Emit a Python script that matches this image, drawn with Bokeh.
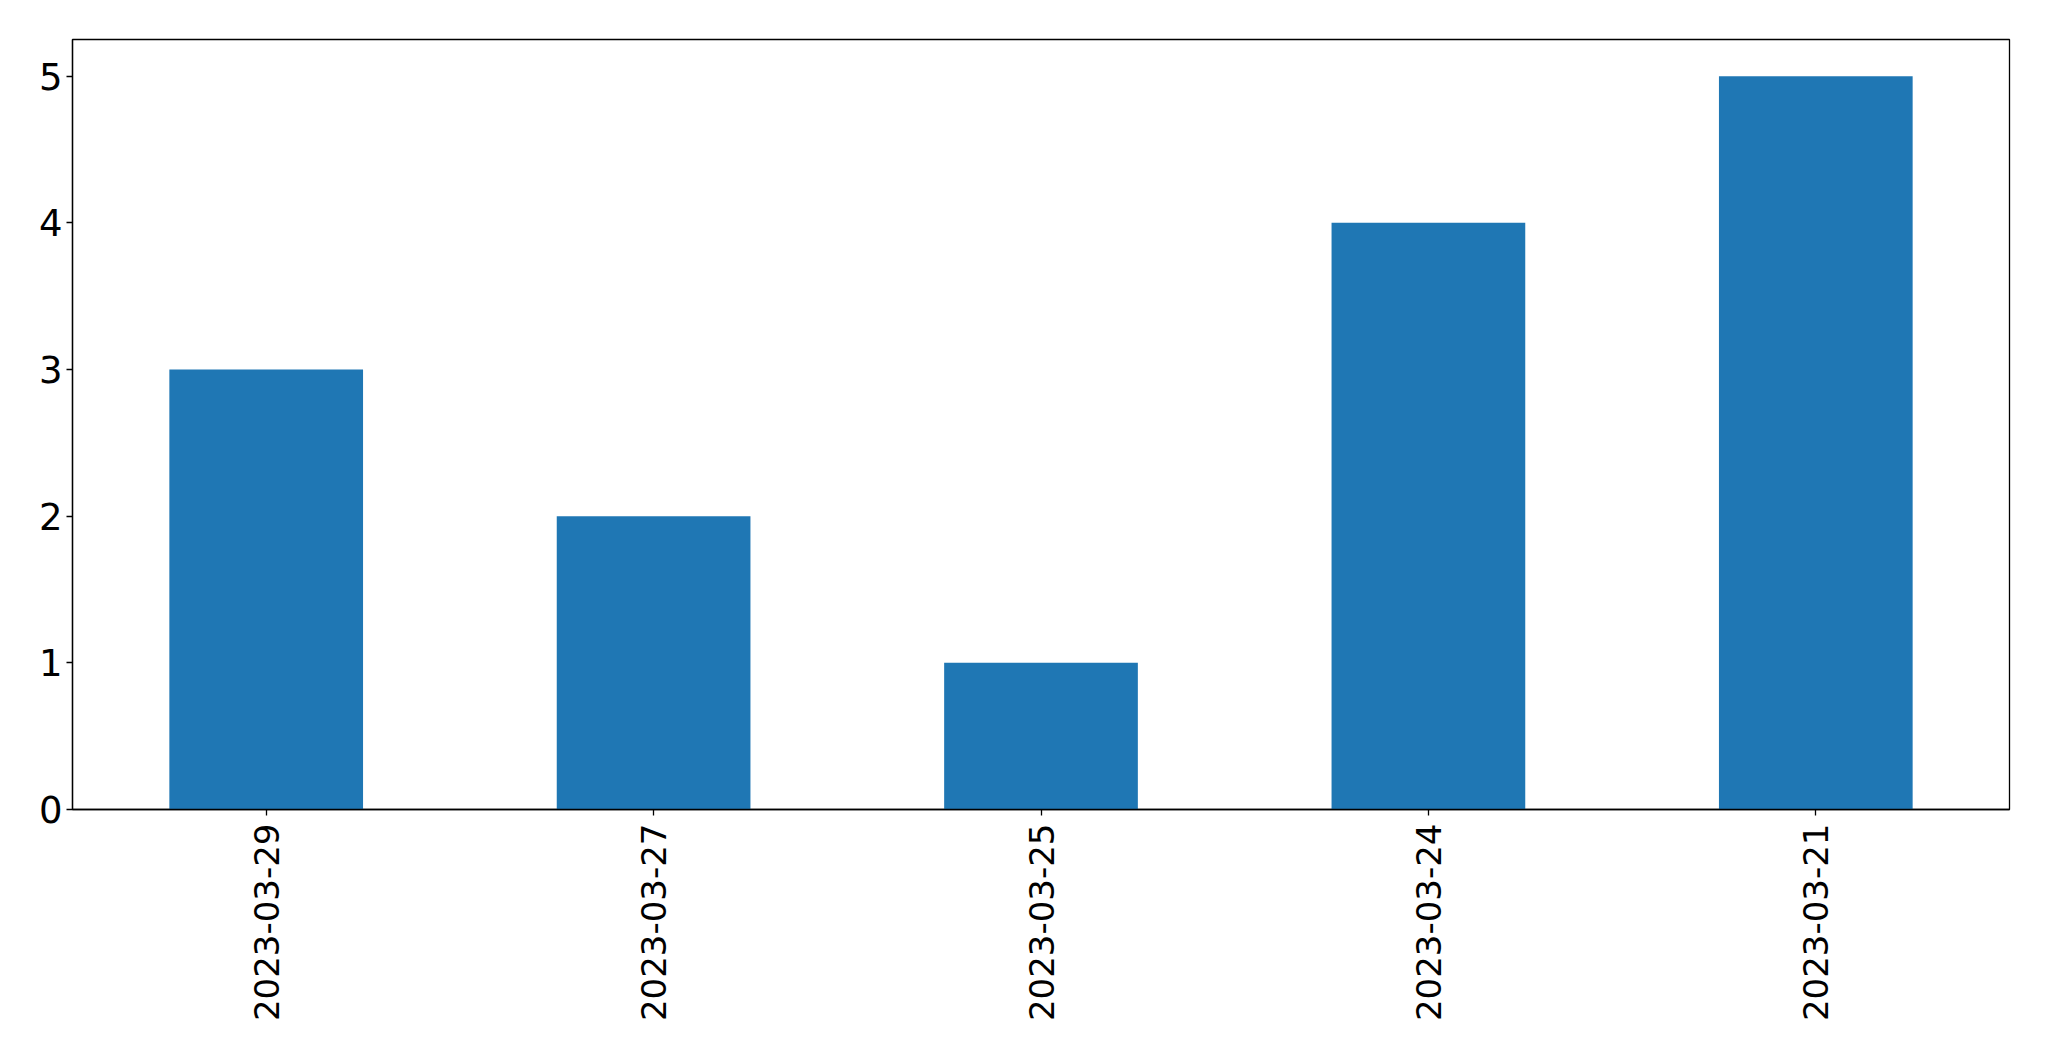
from bokeh.plotting import figure
from bokeh.models import FactorRange, Range1d, SingleIntervalTicker
from bokeh.embed import file_html
from bokeh.resources import INLINE
import math

dates = ["2023-03-29", "2023-03-27", "2023-03-25", "2023-03-24", "2023-03-21"]
counts = [3, 2, 1, 4, 5]

p = figure(
    x_range=FactorRange(factors=dates, range_padding=0),
    y_range=Range1d(0, 5.25),
    width=2041, height=1053,
    output_backend="svg", toolbar_location=None,
    min_border_left=72, min_border_right=32, min_border_top=39, min_border_bottom=244,
)
p.vbar(x=dates, top=counts, width=0.5, color="#1f77b4", line_color=None)

p.xgrid.grid_line_color = None
p.ygrid.grid_line_color = None
p.outline_line_color = "black"
p.outline_line_width = 1.3
p.outline_line_alpha = 1
p.background_fill_color = "white"
p.border_fill_color = "white"

for ax in (p.xaxis[0], p.yaxis[0]):
    ax.major_label_text_font = "DejaVu Sans"
    ax.major_label_text_color = "black"
    ax.axis_line_color = "black"
    ax.axis_line_width = 1.3
    ax.major_tick_line_color = "black"
    ax.major_tick_line_width = 1.3
    ax.major_tick_out = 6
    ax.major_tick_in = 0
    ax.minor_tick_line_color = None

p.yaxis.major_label_text_font_size = "37px"
p.xaxis.major_label_text_font_size = "34px"
p.yaxis.ticker = SingleIntervalTicker(interval=1)
p.yaxis.major_label_standoff = 4
p.xaxis.major_label_orientation = math.pi / 2
p.xaxis.major_label_standoff = 8
p.xaxis.group_text_font_size = "0px"

open("out.html", "w").write(file_html(p, INLINE))
